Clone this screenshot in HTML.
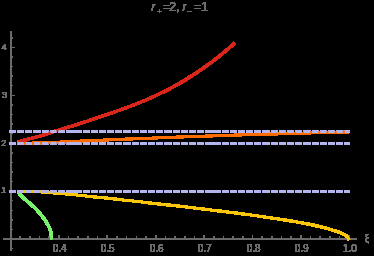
<!DOCTYPE html>
<html><head><meta charset="utf-8"><title>plot</title>
<style>
html,body{margin:0;padding:0;background:#000;}
body{width:374px;height:256px;overflow:hidden;position:relative;font-family:"Liberation Sans",sans-serif;}
</style></head><body>
<svg width="374" height="256" viewBox="0 0 374 256" style="position:absolute;left:0;top:0">
<defs><filter id="ad" x="0" y="0" width="374" height="256" filterUnits="userSpaceOnUse" color-interpolation-filters="sRGB"><feComponentTransfer><feFuncA type="linear" slope="400" intercept="-6"/></feComponentTransfer></filter></defs>
<g filter="url(#ad)">
<g fill="none">
<path d="M10.45,31.00H11.65V250.30H10.45ZM3.10,238.40H356.90V239.60H3.10ZM19.83,236.30H20.53V239.00H19.83ZM29.51,236.30H30.21V239.00H29.51ZM39.19,236.30H39.89V239.00H39.19ZM48.87,236.30H49.57V239.00H48.87ZM58.55,235.20H59.25V239.00H58.55ZM68.23,236.30H68.93V239.00H68.23ZM77.91,236.30H78.61V239.00H77.91ZM87.59,236.30H88.29V239.00H87.59ZM97.27,236.30H97.97V239.00H97.27ZM106.95,235.20H107.65V239.00H106.95ZM116.63,236.30H117.33V239.00H116.63ZM126.31,236.30H127.01V239.00H126.31ZM135.99,236.30H136.69V239.00H135.99ZM145.67,236.30H146.37V239.00H145.67ZM155.35,235.20H156.05V239.00H155.35ZM165.03,236.30H165.73V239.00H165.03ZM174.71,236.30H175.41V239.00H174.71ZM184.39,236.30H185.09V239.00H184.39ZM194.07,236.30H194.77V239.00H194.07ZM203.75,235.20H204.45V239.00H203.75ZM213.43,236.30H214.13V239.00H213.43ZM223.11,236.30H223.81V239.00H223.11ZM232.79,236.30H233.49V239.00H232.79ZM242.47,236.30H243.17V239.00H242.47ZM252.15,235.20H252.85V239.00H252.15ZM261.83,236.30H262.53V239.00H261.83ZM271.51,236.30H272.21V239.00H271.51ZM281.19,236.30H281.89V239.00H281.19ZM290.87,236.30H291.57V239.00H290.87ZM300.55,235.20H301.25V239.00H300.55ZM310.23,236.30H310.93V239.00H310.23ZM319.91,236.30H320.61V239.00H319.91ZM329.59,236.30H330.29V239.00H329.59ZM339.27,236.30H339.97V239.00H339.27ZM348.95,235.20H349.65V239.00H348.95ZM11.00,248.23H12.95V248.93H11.00ZM11.00,229.07H12.95V229.77H11.00ZM11.00,219.49H12.95V220.19H11.00ZM11.00,209.91H12.95V210.61H11.00ZM11.00,200.33H12.95V201.03H11.00ZM11.00,190.85H14.90V191.35H11.00ZM11.00,181.17H12.95V181.87H11.00ZM11.00,171.59H12.95V172.29H11.00ZM11.00,162.01H12.95V162.71H11.00ZM11.00,152.43H12.95V153.13H11.00ZM11.00,142.95H14.90V143.45H11.00ZM11.00,133.27H12.95V133.97H11.00ZM11.00,123.69H12.95V124.39H11.00ZM11.00,114.11H12.95V114.81H11.00ZM11.00,104.53H12.95V105.23H11.00ZM11.00,95.05H14.90V95.55H11.00ZM11.00,85.37H12.95V86.07H11.00ZM11.00,75.79H12.95V76.49H11.00ZM11.00,66.21H12.95V66.91H11.00ZM11.00,56.63H12.95V57.33H11.00ZM11.00,47.15H14.90V47.65H11.00ZM11.00,37.47H12.95V38.17H11.00Z" fill="#6b6b6b" stroke="none"/>
</g>
<g font-family="'Liberation Sans', sans-serif" font-size="10" fill="#6b6b6b" text-anchor="middle">
<text x="59.6" y="251.5">0.4</text>
<text x="107.6" y="251.5">0.5</text>
<text x="156.6" y="251.5">0.6</text>
<text x="204.6" y="251.5">0.7</text>
<text x="253.6" y="251.5">0.8</text>
<text x="301.6" y="251.5">0.9</text>
<text x="349.9" y="251.5">1.0</text>
<text x="367" y="241.5">ξ</text>
</g>
<g font-family="'Liberation Sans', sans-serif" font-size="9.2" fill="#6b6b6b" text-anchor="end">
<text x="6.3" y="193.3">1</text>
<text x="6.3" y="146.2">2</text>
<text x="7.2" y="98.3">3</text>
<text x="6.5" y="50.4">4</text>
</g>
<g font-family="'Liberation Sans', sans-serif" font-size="12" fill="#6b6b6b">
<text x="151.3" y="11.1" font-style="italic">r</text>
<text x="157" y="13.7" font-size="8">+</text>
<text x="162.9" y="11.1">=</text>
<text x="169.3" y="11.1">2,</text>
<text x="182.5" y="11.1" font-style="italic">r</text>
<text x="187.8" y="13.7" font-size="8">−</text>
<text x="193.8" y="11.1">=</text>
<text x="201.1" y="11.1">1</text>
</g>
<g fill="none">
<path d="M17.30,141.91 L18.67,141.56 L20.04,141.21 L21.41,140.86 L22.77,140.51 L24.14,140.15 L25.51,139.80 L26.88,139.44 L28.25,139.09 L29.62,138.73 L30.99,138.37 L32.35,138.01 L33.72,137.66 L35.09,137.30 L36.46,136.94 L37.83,136.59 L39.20,136.24 L40.57,135.89 L41.93,135.49 L43.30,135.05 L44.67,134.60 L46.04,134.16 L47.41,133.72 L48.78,133.29 L50.15,132.85 L51.51,132.42 L52.88,131.99 L54.25,131.56 L55.62,131.13 L56.99,130.71 L58.36,130.28 L59.73,129.86 L61.09,129.44 L62.46,129.02 L63.83,128.60 L65.20,128.17 L66.57,127.75 L67.94,127.33 L69.31,126.91 L70.67,126.48 L72.04,126.06 L73.41,125.63 L74.78,125.20 L76.15,124.77 L77.52,124.34 L78.88,123.90 L80.25,123.46 L81.62,123.02 L82.99,122.58 L84.36,122.14 L85.73,121.69 L87.10,121.24 L88.46,120.79 L89.83,120.33 L91.20,119.88 L92.57,119.42 L93.94,118.96 L95.31,118.50 L96.68,118.04 L98.04,117.57 L99.41,117.11 L100.78,116.64 L102.15,116.17 L103.52,115.71 L104.89,115.24 L106.26,114.77 L107.62,114.30 L108.99,113.82 L110.36,113.35 L111.73,112.88 L113.10,112.40 L114.47,111.92 L115.84,111.44 L117.20,110.96 L118.57,110.48 L119.94,109.99 L121.31,109.50 L122.68,109.01 L124.05,108.52 L125.42,108.02 L126.78,107.52 L128.15,107.01 L129.52,106.50 L130.89,105.98 L132.26,105.46 L133.63,104.94 L135.00,104.41 L136.36,103.88 L137.73,103.34 L139.10,102.79 L140.47,102.24 L141.84,101.68 L143.21,101.12 L144.58,100.54 L145.94,99.97 L147.31,99.38 L148.68,98.79 L150.05,98.19 L151.42,97.59 L152.79,96.97 L154.16,96.35 L155.52,95.72 L156.89,95.09 L158.26,94.44 L159.63,93.79 L161.00,93.13 L162.37,92.46 L163.74,91.78 L165.10,91.09 L166.47,90.40 L167.84,89.69 L169.21,88.98 L170.58,88.25 L171.95,87.52 L173.32,86.78 L174.68,86.03 L176.05,85.27 L177.42,84.50 L178.79,83.72 L180.16,82.93 L181.53,82.13 L182.89,81.33 L184.26,80.51 L185.63,79.68 L187.00,78.84 L188.37,77.99 L189.74,77.14 L191.11,76.27 L192.47,75.39 L193.84,74.51 L195.21,73.61 L196.58,72.70 L197.95,71.79 L199.32,70.86 L200.69,69.93 L202.05,68.98 L203.42,68.03 L204.79,67.06 L206.16,66.09 L207.53,65.11 L208.90,64.11 L210.27,63.11 L211.63,62.10 L213.00,61.08 L214.37,60.03 L215.74,58.96 L217.11,57.88 L218.48,56.79 L219.85,55.68 L221.21,54.57 L222.58,53.44 L223.95,52.30 L225.32,51.15 L226.69,49.98 L228.06,48.81 L229.43,47.63 L230.79,46.44 L232.16,45.25 L233.53,44.04 L234.90,42.83" stroke="#d9261a" stroke-width="2.75" stroke-linejoin="round"/>
<path d="M165.10,91.09 L166.47,90.40 L167.84,89.69 L169.21,88.98 L170.58,88.25 L171.95,87.52 L173.32,86.78 L174.68,86.03 L176.05,85.27 L177.42,84.50 L178.79,83.72 L180.16,82.93 L181.53,82.13 L182.89,81.33 L184.26,80.51 L185.63,79.68 L187.00,78.84 L188.37,77.99 L189.74,77.14 L191.11,76.27 L192.47,75.39 L193.84,74.51 L195.21,73.61 L196.58,72.70 L197.95,71.79 L199.32,70.86 L200.69,69.93 L202.05,68.98 L203.42,68.03 L204.79,67.06 L206.16,66.09 L207.53,65.11 L208.90,64.11 L210.27,63.11 L211.63,62.10 L213.00,61.08 L214.37,60.03 L215.74,58.96 L217.11,57.88 L218.48,56.79 L219.85,55.68 L221.21,54.57 L222.58,53.44 L223.95,52.30 L225.32,51.15 L226.69,49.98 L228.06,48.81 L229.43,47.63 L230.79,46.44 L232.16,45.25 L233.53,44.04 L234.90,42.83" stroke="#d9261a" stroke-width="3.0" stroke-linejoin="round"/>
<path d="M19.20,191.50 L19.30,193.00 L19.90,194.20 L20.55,195.00 L20.94,195.45 L21.36,195.90 L21.81,196.35 L22.27,196.81 L22.75,197.26 L23.24,197.71 L23.74,198.16 L24.26,198.61 L24.78,199.06 L25.31,199.52 L25.84,199.97 L26.37,200.42 L26.90,200.87 L27.44,201.32 L27.97,201.77 L28.50,202.22 L29.03,202.68 L29.56,203.13 L30.08,203.58 L30.59,204.03 L31.10,204.48 L31.60,204.93 L32.10,205.38 L32.59,205.84 L33.08,206.29 L33.55,206.74 L34.03,207.19 L34.49,207.64 L34.95,208.09 L35.40,208.55 L35.84,209.00 L36.28,209.45 L36.71,209.90 L37.13,210.35 L37.55,210.80 L37.96,211.25 L38.37,211.71 L38.77,212.16 L39.17,212.61 L39.56,213.06 L39.94,213.51 L40.32,213.96 L40.69,214.42 L41.06,214.87 L41.42,215.32 L41.78,215.77 L42.14,216.22 L42.49,216.67 L42.83,217.12 L43.17,217.58 L43.51,218.03 L43.84,218.48 L44.17,218.93 L44.49,219.38 L44.81,219.83 L45.12,220.28 L45.42,220.74 L45.73,221.19 L46.02,221.64 L46.31,222.09 L46.59,222.54 L46.87,222.99 L47.14,223.45 L47.41,223.90 L47.66,224.35 L47.91,224.80 L48.16,225.25 L48.39,225.70 L48.62,226.15 L48.84,226.61 L49.05,227.06 L49.25,227.51 L49.44,227.96 L49.62,228.41 L49.79,228.86 L49.95,229.32 L50.11,229.77 L50.25,230.22 L50.38,230.67 L50.50,231.12 L50.62,231.57 L50.72,232.02 L50.82,232.48 L50.90,232.93 L50.98,233.38 L51.04,233.83 L51.10,234.28 L51.15,234.73 L51.20,235.18 L51.24,235.64 L51.28,236.09 L51.31,236.54 L51.34,236.99 L51.37,237.44 L51.40,237.89 L51.43,238.35 L51.46,238.80 L51.51,239.25 L51.56,239.70" stroke="#78f26c" stroke-width="2.85" stroke-linejoin="round"/>
<path d="M18.00,143.20 L20.22,143.20 L22.44,143.19 L24.66,143.18 L26.88,143.16 L29.10,143.14 L31.32,143.12 L33.55,143.10 L35.77,143.07 L37.99,143.03 L40.21,142.97 L42.43,142.90 L44.65,142.82 L46.87,142.73 L49.09,142.63 L51.31,142.52 L53.53,142.42 L55.75,142.31 L57.97,142.21 L60.20,142.11 L62.42,142.01 L64.64,141.91 L66.86,141.81 L69.08,141.70 L71.30,141.59 L73.52,141.49 L75.74,141.38 L77.96,141.27 L80.18,141.16 L82.40,141.06 L84.62,140.96 L86.84,140.86 L89.07,140.76 L91.29,140.66 L93.51,140.56 L95.73,140.46 L97.95,140.36 L100.17,140.26 L102.39,140.16 L104.61,140.07 L106.83,139.97 L109.05,139.87 L111.27,139.77 L113.49,139.68 L115.72,139.58 L117.94,139.48 L120.16,139.39 L122.38,139.29 L124.60,139.20 L126.82,139.10 L129.04,139.01 L131.26,138.92 L133.48,138.83 L135.70,138.74 L137.92,138.65 L140.14,138.56 L142.37,138.48 L144.59,138.39 L146.81,138.30 L149.03,138.21 L151.25,138.13 L153.47,138.04 L155.69,137.95 L157.91,137.87 L160.13,137.78 L162.35,137.69 L164.57,137.60 L166.79,137.51 L169.01,137.43 L171.24,137.34 L173.46,137.25 L175.68,137.17 L177.90,137.09 L180.12,137.00 L182.34,136.92 L184.56,136.84 L186.78,136.76 L189.00,136.68 L191.22,136.60 L193.44,136.53 L195.66,136.45 L197.89,136.37 L200.11,136.30 L202.33,136.22 L204.55,136.15 L206.77,136.07 L208.99,135.99 L211.21,135.92 L213.43,135.84 L215.65,135.77 L217.87,135.69 L220.09,135.61 L222.31,135.54 L224.53,135.46 L226.76,135.39 L228.98,135.31 L231.20,135.24 L233.42,135.17 L235.64,135.09 L237.86,135.02 L240.08,134.95 L242.30,134.88 L244.52,134.81 L246.74,134.75 L248.96,134.68 L251.18,134.62 L253.41,134.55 L255.63,134.49 L257.85,134.42 L260.07,134.36 L262.29,134.30 L264.51,134.23 L266.73,134.17 L268.95,134.11 L271.17,134.04 L273.39,133.98 L275.61,133.91 L277.83,133.85 L280.06,133.78 L282.28,133.72 L284.50,133.65 L286.72,133.58 L288.94,133.52 L291.16,133.45 L293.38,133.38 L295.60,133.32 L297.82,133.25 L300.04,133.19 L302.26,133.13 L304.48,133.06 L306.70,133.00 L308.93,132.94 L311.15,132.88 L313.37,132.82 L315.59,132.76 L317.81,132.71 L320.03,132.65 L322.25,132.59 L324.47,132.54 L326.69,132.48 L328.91,132.43 L331.13,132.37 L333.35,132.32 L335.58,132.26 L337.80,132.21 L340.02,132.16 L342.24,132.11 L344.46,132.06 L346.68,132.01 L348.90,131.96" stroke="#fc6c00" stroke-width="2.46"/>
<path d="M18.00,191.45 L20.32,191.45 L22.63,191.46 L24.95,191.47 L27.27,191.48 L29.58,191.50 L31.90,191.52 L34.22,191.58 L36.53,191.66 L38.85,191.75 L41.17,191.85 L43.48,191.97 L45.80,192.13 L48.12,192.32 L50.43,192.53 L52.75,192.74 L55.06,192.95 L57.38,193.16 L59.70,193.38 L62.01,193.60 L64.33,193.82 L66.65,194.03 L68.96,194.25 L71.28,194.46 L73.60,194.68 L75.91,194.90 L78.23,195.14 L80.55,195.38 L82.86,195.63 L85.18,195.88 L87.50,196.13 L89.81,196.39 L92.13,196.65 L94.45,196.91 L96.76,197.15 L99.08,197.38 L101.40,197.61 L103.71,197.85 L106.03,198.09 L108.35,198.34 L110.66,198.58 L112.98,198.83 L115.29,199.08 L117.61,199.34 L119.93,199.59 L122.24,199.85 L124.56,200.10 L126.88,200.36 L129.19,200.61 L131.51,200.87 L133.83,201.13 L136.14,201.39 L138.46,201.65 L140.78,201.90 L143.09,202.16 L145.41,202.42 L147.73,202.67 L150.04,202.93 L152.36,203.19 L154.68,203.45 L156.99,203.71 L159.31,203.96 L161.63,204.21 L163.94,204.46 L166.26,204.70 L168.58,204.95 L170.89,205.21 L173.21,205.47 L175.53,205.73 L177.84,206.00 L180.16,206.27 L182.47,206.54 L184.79,206.81 L187.11,207.09 L189.42,207.36 L191.74,207.64 L194.06,207.92 L196.37,208.20 L198.69,208.48 L201.01,208.76 L203.32,209.05 L205.64,209.33 L207.96,209.61 L210.27,209.89 L212.59,210.17 L214.91,210.45 L217.22,210.73 L219.54,211.02 L221.86,211.30 L224.17,211.59 L226.49,211.87 L228.81,212.16 L231.12,212.44 L233.44,212.72 L235.76,213.01 L238.07,213.32 L240.39,213.62 L242.71,213.93 L245.02,214.25 L247.34,214.57 L249.65,214.89 L251.97,215.22 L254.29,215.55 L256.60,215.88 L258.92,216.21 L261.24,216.55 L263.55,216.88 L265.87,217.21 L268.19,217.55 L270.50,217.88 L272.82,218.21 L275.14,218.54 L277.45,218.88 L279.77,219.23 L282.09,219.59 L284.40,219.95 L286.72,220.32 L289.04,220.68 L291.35,221.04 L293.67,221.40 L295.99,221.75 L298.30,222.13 L300.62,222.55 L302.94,223.00 L305.25,223.47 L307.57,223.95 L309.88,224.43 L312.20,224.90 L314.52,225.36 L316.83,225.83 L319.15,226.33 L321.47,226.87 L323.78,227.47 L326.10,228.13 L328.42,228.83 L330.73,229.54 L333.05,230.22 L335.37,230.90 L337.68,231.65 L340.00,232.52 L340.24,232.62 L340.48,232.72 L340.72,232.83 L340.95,232.93 L341.19,233.04 L341.43,233.15 L341.67,233.26 L341.91,233.38 L342.15,233.50 L342.38,233.61 L342.62,233.74 L342.86,233.86 L343.10,233.99 L343.34,234.11 L343.58,234.24 L343.82,234.37 L344.05,234.50 L344.29,234.62 L344.53,234.75 L344.77,234.89 L345.01,235.02 L345.25,235.16 L345.48,235.31 L345.72,235.47 L345.96,235.63 L346.20,235.81 L346.44,236.00 L346.68,236.20 L346.92,236.41 L347.15,236.67 L347.39,236.97 L347.63,237.31 L347.87,237.69 L348.11,238.07 L348.35,238.47 L348.58,238.86 L348.82,239.24 L349.06,239.61 L349.30,240.00" stroke="#fbc60a" stroke-width="2.46" stroke-linejoin="round"/>
<path d="M300.62,222.55 L302.94,223.00 L305.25,223.47 L307.57,223.95 L309.88,224.43 L312.20,224.90 L314.52,225.36 L316.83,225.83 L319.15,226.33 L321.47,226.87 L323.78,227.47 L326.10,228.13 L328.42,228.83 L330.73,229.54 L333.05,230.22 L335.37,230.90 L337.68,231.65 L340.00,232.52 L340.24,232.62 L340.48,232.72 L340.72,232.83 L340.95,232.93 L341.19,233.04 L341.43,233.15 L341.67,233.26 L341.91,233.38 L342.15,233.50 L342.38,233.61 L342.62,233.74 L342.86,233.86 L343.10,233.99 L343.34,234.11 L343.58,234.24 L343.82,234.37 L344.05,234.50 L344.29,234.62 L344.53,234.75 L344.77,234.89 L345.01,235.02 L345.25,235.16 L345.48,235.31 L345.72,235.47 L345.96,235.63 L346.20,235.81 L346.44,236.00 L346.68,236.20 L346.92,236.41 L347.15,236.67 L347.39,236.97 L347.63,237.31 L347.87,237.69 L348.11,238.07 L348.35,238.47 L348.58,238.86 L348.82,239.24 L349.06,239.61 L349.30,240.00" stroke="#fbc60a" stroke-width="2.7" stroke-linejoin="round"/>
<path d="M17.1,140.1 H18.2 V142 H17.1 Z" fill="#fc6c00" stroke="none"/>
<path d="M9.4,191.50 H349.7" stroke="#b4b4ee" stroke-width="3" stroke-dasharray="6.2 1.98"/>
<path d="M211.5,191.50 H214.2 M72.5,191.50 H75.2" stroke="#b4b4ee" stroke-width="3"/>
<path d="M9.4,143.50 H349.7" stroke="#b4b4ee" stroke-width="3" stroke-dasharray="6.2 1.98"/>
<path d="M211.5,143.50 H214.2 M72.5,143.50 H75.2" stroke="#b4b4ee" stroke-width="3"/>
<path d="M9.4,131.50 H349.7" stroke="#b4b4ee" stroke-width="3" stroke-dasharray="6.2 1.98"/>
<path d="M211.5,131.50 H214.2 M72.5,131.50 H75.2" stroke="#b4b4ee" stroke-width="3"/>
</g>
</g>
</svg>
</body></html>
